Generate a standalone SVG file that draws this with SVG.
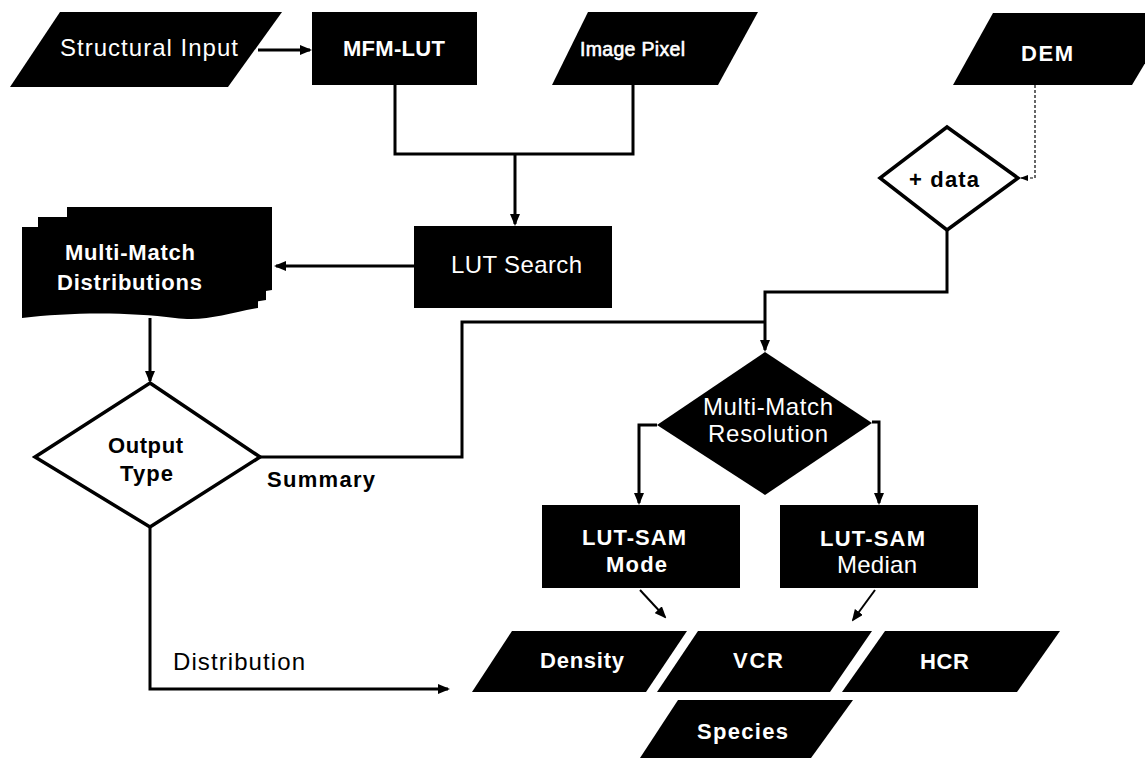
<svg xmlns="http://www.w3.org/2000/svg" width="1145" height="758" viewBox="0 0 1145 758">
<defs>
<marker id="ah" markerWidth="12" markerHeight="10" refX="10" refY="5" orient="auto" markerUnits="userSpaceOnUse"><path d="M0,0 L12,5 L0,10 Z" fill="#000"/></marker>
<marker id="ahs" markerWidth="8" markerHeight="8" refX="7" refY="4" orient="auto" markerUnits="userSpaceOnUse"><path d="M0,1 L8,4 L0,7 Z" fill="#000"/></marker>
<style>
.b{fill:#000}
.w{fill:#fff;stroke:#000;stroke-width:3.5}
text{font-family:"Liberation Sans",Arial,sans-serif;font-size:24px}
.tw{fill:#fff}
.tk{fill:#000}
.bd{font-weight:bold;font-size:22px}
.sm{font-size:19.5px}
.c{fill:none;stroke:#000;stroke-width:3}
.d{fill:none;stroke:#000;stroke-width:1.2;stroke-dasharray:3,2}
</style>
</defs>
<rect width="1145" height="758" fill="#fff"/>
<g id="structural-input"><path class="b" d="M60,12 L282,12 L228,87 L10,87 Z"/><text class="tw" x="60" y="56" textLength="178" lengthAdjust="spacing">Structural Input</text></g>
<g id="mfm-lut"><rect class="b" x="312" y="12" width="165" height="73"/><text class="tw bd" x="343" y="56" textLength="102" lengthAdjust="spacing">MFM-LUT</text></g>
<g id="image-pixel"><path class="b" d="M588,12 L758,12 L718,85 L552,85 Z"/><text class="tw sm" x="580" y="56" textLength="105" lengthAdjust="spacing" style="stroke:#fff;stroke-width:0.6">Image Pixel</text></g>
<g id="dem"><path class="b" d="M993,13 L1175,13 L1132,85 L953,85 Z"/><text class="tw bd" x="1021" y="61" textLength="52" lengthAdjust="spacing">DEM</text></g>
<g id="plus-data"><path class="w" d="M947,127 L1018,178 L947,230 L880,178 Z"/><text class="tk bd" x="909" y="187" textLength="70" lengthAdjust="spacing">+ data</text></g>
<g id="lut-search"><rect class="b" x="414" y="226" width="198" height="82"/><text class="tw" x="451" y="273" textLength="131" lengthAdjust="spacing">LUT Search</text></g>
<g id="multi-match-distributions">
<path class="b" d="M67,207 H272 V290 C240,295 220,300 200,296 C160,290 110,292 67,300 Z"/>
<path class="b" d="M38,217 H266 V300 C232,305 212,312 185,308 C140,302 90,302 38,309 Z"/>
<path class="b" d="M22,227 H258 V308 C225,314 205,322 175,318 C130,312 70,312 22,318 Z"/>
<text class="tw bd" x="65" y="260" textLength="130" lengthAdjust="spacing">Multi-Match</text>
<text class="tw bd" x="57" y="290" textLength="145" lengthAdjust="spacing">Distributions</text>
</g>
<g id="output-type"><path class="w" d="M150,383 L260,457 L150,527 L35,457 Z"/><text class="tk bd" x="108" y="453" textLength="75" lengthAdjust="spacing">Output</text><text class="tk bd" x="120" y="481" textLength="53" lengthAdjust="spacing">Type</text></g>
<g id="multi-match-resolution"><path class="b" d="M765,352 L872,423 L765,495 L657,425 Z"/><text class="tw" x="703" y="415" textLength="130" lengthAdjust="spacing">Multi-Match</text><text class="tw" x="708" y="442" textLength="120" lengthAdjust="spacing">Resolution</text></g>
<g id="lut-sam-mode"><rect class="b" x="542" y="505" width="198" height="83"/><text class="tw bd" x="582" y="545" textLength="104" lengthAdjust="spacing">LUT-SAM</text><text class="tw bd" x="606" y="572" textLength="61" lengthAdjust="spacing">Mode</text></g>
<g id="lut-sam-median"><rect class="b" x="780" y="505" width="198" height="83"/><text class="tw bd" x="820" y="546" textLength="105" lengthAdjust="spacing">LUT-SAM</text><text class="tw" x="837" y="573" textLength="80" lengthAdjust="spacing">Median</text></g>
<g id="density"><path class="b" d="M512,631 L687,631 L646,692 L472,692 Z"/><text class="tw bd" x="540" y="668" textLength="84" lengthAdjust="spacing">Density</text></g>
<g id="vcr"><path class="b" d="M698,631 L872,631 L830,692 L657,692 Z"/><text class="tw bd" x="733" y="668" textLength="50" lengthAdjust="spacing">VCR</text></g>
<g id="hcr"><path class="b" d="M885,631 L1060,631 L1017,692 L842,692 Z"/><text class="tw bd" x="920" y="669" textLength="49" lengthAdjust="spacing">HCR</text></g>
<g id="species"><path class="b" d="M678,700 L853,700 L811,758 L640,758 Z"/><text class="tw bd" x="697" y="739" textLength="91" lengthAdjust="spacing">Species</text></g>
<g id="labels"><text class="tk bd" x="267" y="487" textLength="108" lengthAdjust="spacing">Summary</text><text class="tk" x="173" y="670" textLength="132" lengthAdjust="spacing">Distribution</text></g>
<g id="connectors">
<path class="c" d="M258,50 H310" marker-end="url(#ah)"/>
<path class="c" d="M395,85 V154 H633 V85"/>
<path class="c" d="M515,154 V224" marker-end="url(#ah)"/>
<path class="c" d="M414,266 H276" marker-end="url(#ah)"/>
<path class="c" d="M150,318 V381" marker-end="url(#ah)"/>
<path class="c" d="M260,457 H462 V322 H765"/>
<path class="c" d="M947,230 V292 H765 V350" marker-end="url(#ah)"/>
<path class="d" d="M1035,85 V178 H1021" marker-end="url(#ahs)"/>
<path class="c" d="M657,425 H639 V503" marker-end="url(#ah)"/>
<path class="c" d="M872,422 H879 V503" marker-end="url(#ah)"/>
<path class="c" style="stroke-width:2" d="M640,590 L665,617" marker-end="url(#ah)"/>
<path class="c" style="stroke-width:2" d="M875,590 L853,620" marker-end="url(#ah)"/>
<path class="c" d="M150,527 V689 H448" marker-end="url(#ah)"/>
</g>
</svg>
